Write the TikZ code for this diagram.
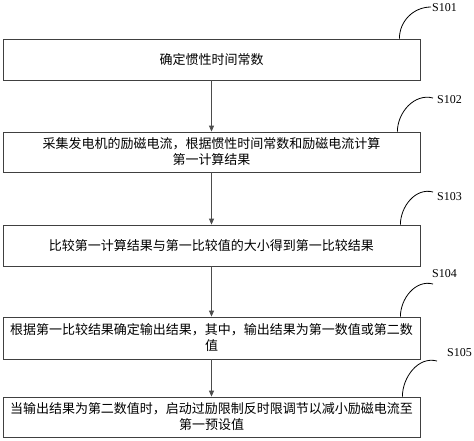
\documentclass[tikz,border=0pt]{standalone}
\usepackage{fontspec}
\setmainfont{Liberation Serif}
\newfontfamily\cjk{Noto Sans CJK SC}
\usepackage{tikz}
\usetikzlibrary{arrows.meta}

\tikzset{
  stepbox/.style={draw=black!75, line width=0.8pt, minimum width=417pt, minimum height=40pt,
    inner sep=0pt, text width=412pt, align=center, font=\cjk\fontsize{13pt}{16pt}\selectfont},
  flow/.style={draw=black!70, line width=0.8pt, -{Triangle[length=6pt,width=5pt]}},
  tag/.style={draw=black, line width=0.8pt},
  tagtext/.style={font=\fontsize{12pt}{14pt}\selectfont, inner sep=1pt}
}

\begin{document}
\begin{tikzpicture}[x=1pt,y=-1pt]

\useasboundingbox (0,0) rectangle (474,440);

% Step boxes
\node[stepbox, minimum height=41pt] (b1) at (211.5,59.5) {确定惯性时间常数};
\node[stepbox] (b2) at (211.5,152) {采集发电机的励磁电流，根据惯性时间常数和励磁电流计算\\第一计算结果};
\node[stepbox, minimum height=41pt] (b3) at (211.5,245.5) {比较第一计算结果与第一比较值的大小得到第一比较结果};
\node[stepbox, minimum height=42pt] (b4) at (211.5,338) {根据第一比较结果确定输出结果，其中，输出结果为第一数值或第二数\\值};
\node[stepbox] (b5) at (211.5,417) {当输出结果为第二数值时，启动过励限制反时限调节以减小励磁电流至\\第一预设值};

% Arrows between steps
\draw[flow] (b1) -- (b2);
\draw[flow] (b2) -- (b3);
\draw[flow] (b3) -- (b4);
\draw[flow] (b4) -- (b5);

% Step labels
\coordinate (t1) at (431,7);
\coordinate (t2) at (433,98);
\coordinate (t3) at (433,192);
\coordinate (t4) at (433,284);
\coordinate (t5) at (437,361);

\draw[tag] ([xshift=-21pt]b1.north east) to[out=90,in=180] (t1);
\draw[tag] ([xshift=-23pt]b2.north east) to[out=90,in=165] (t2);
\draw[tag] ([xshift=-20pt]b3.north east) to[out=90,in=165] (t3);
\draw[tag] ([xshift=-20pt]b4.north east) to[out=90,in=165] (t4);
\draw[tag] ([xshift=-18pt]b5.north east) to[out=90,in=165] (t5);

\node[tagtext, anchor=west] (s1) at (431,8) {S101};
\node[tagtext, anchor=west] (s2) at (436,100) {S102};
\node[tagtext, anchor=west] (s3) at (436,197) {S103};
\node[tagtext, anchor=west] (s4) at (431,274) {S104};
\node[tagtext, anchor=west] (s5) at (446,353) {S105};

\end{tikzpicture}
\end{document}
